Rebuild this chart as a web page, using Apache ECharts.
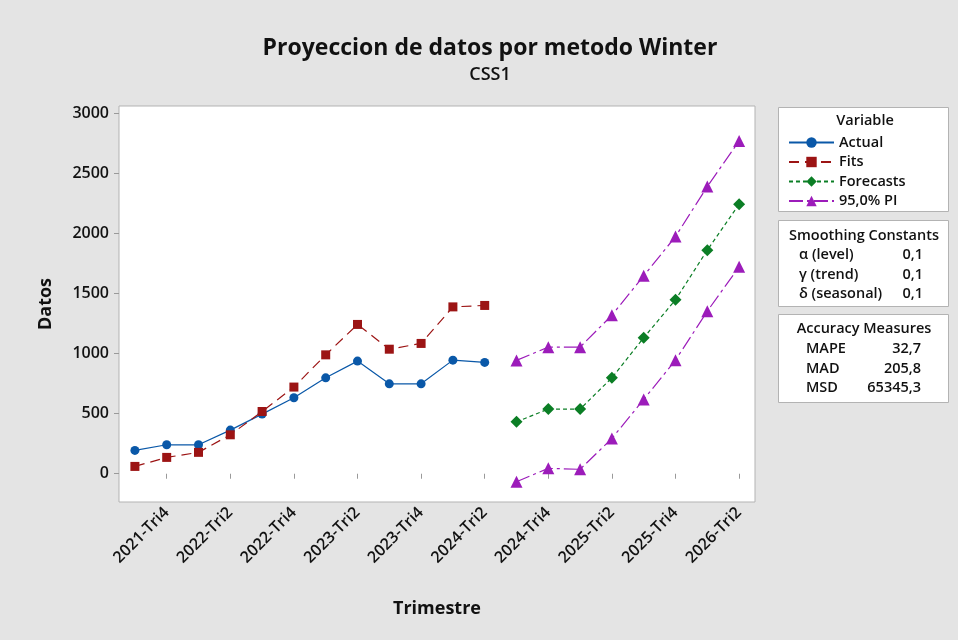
<!DOCTYPE html>
<html>
<head>
<meta charset="utf-8">
<script src="https://cdn.jsdelivr.net/npm/echarts@6/dist/echarts.min.js"></script>
<style>
  html, body { margin: 0; padding: 0; background: #e4e4e4; }
  #main { width: 958px; height: 640px; }
</style>
</head>
<body>
<div id="main"></div>
<script>
// categorias (trimestres)
var trimestres = [
  '2021-Tri3', '2021-Tri4', '2022-Tri1', '2022-Tri2', '2022-Tri3', '2022-Tri4',
  '2023-Tri1', '2023-Tri2', '2023-Tri3', '2023-Tri4', '2024-Tri1', '2024-Tri2',
  '2024-Tri3', '2024-Tri4', '2025-Tri1', '2025-Tri2', '2025-Tri3', '2025-Tri4',
  '2026-Tri1', '2026-Tri2'
];
var actual    = [194, 241, 241, 363, 496, 632, 798, 937, 748, 748, 945, 926,
                 null, null, null, null, null, null, null, null];
var fits      = [61, 136, 178, 324, 518, 721, 989, 1242, 1036, 1084, 1388, 1400,
                 null, null, null, null, null, null, null, null];
var forecasts = [null, null, null, null, null, null, null, null, null, null, null, null,
                 432, 538, 538, 798, 1131, 1447, 1860, 2242];
var piUpper   = [null, null, null, null, null, null, null, null, null, null, null, null,
                 943, 1053, 1053, 1319, 1646, 1973, 2389, 2768];
var piLower   = [null, null, null, null, null, null, null, null, null, null, null, null,
                 -66, 45, 37, 294, 618, 945, 1352, 1721];
var yTicks = [0, 500, 1000, 1500, 2000, 2500, 3000];

var smoothing = [['α (level)', '0,1'], ['γ (trend)', '0,1'], ['δ (seasonal)', '0,1']];
var accuracy  = [['MAPE', '32,7'], ['MAD', '205,8'], ['MSD', '65345,3']];

var FONT = '"Open Sans", "Noto Sans", sans-serif';
var chart = echarts.init(document.getElementById('main'));

function boxText(x, y, txt, align) {
  return {
    type: 'text', x: x, y: y,
    style: { text: txt, fontFamily: FONT, fontSize: 14.5, fontWeight: 600,
             fill: '#111', textAlign: align || 'left', textVerticalAlign: 'middle' }
  };
}

var graphics = [
  { type: 'text', x: 490, y: 48,
    style: { text: 'Proyeccion de datos por metodo Winter', fontFamily: FONT, fontSize: 23,
             fontWeight: 'bold', fill: '#111', textAlign: 'center', textVerticalAlign: 'middle' } },
  { type: 'text', x: 490, y: 75,
    style: { text: 'CSS1', fontFamily: FONT, fontSize: 18, fontWeight: 600, fill: '#111',
             textAlign: 'center', textVerticalAlign: 'middle' } },
  { type: 'rect', shape: { x: 778.5, y: 107.5, width: 170, height: 104 },
    style: { fill: '#fff', stroke: '#b3b3b3', lineWidth: 1 }, z: -1 },
  { type: 'rect', shape: { x: 778.5, y: 220.5, width: 170, height: 86 },
    style: { fill: '#fff', stroke: '#b3b3b3', lineWidth: 1 }, z: -1 },
  { type: 'rect', shape: { x: 778.5, y: 314.5, width: 170, height: 88 },
    style: { fill: '#fff', stroke: '#b3b3b3', lineWidth: 1 }, z: -1 },
  boxText(865, 121, 'Variable', 'center'),
  boxText(864, 236, 'Smoothing Constants', 'center'),
  boxText(864, 329, 'Accuracy Measures', 'center')
];
smoothing.forEach(function (r, i) {
  graphics.push(boxText(799, 255 + i * 19.5, r[0], 'left'));
  graphics.push(boxText(923, 255 + i * 19.5, r[1], 'right'));
});
accuracy.forEach(function (r, i) {
  graphics.push(boxText(806, 349 + i * 19.5, r[0], 'left'));
  graphics.push(boxText(921, 349 + i * 19.5, r[1], 'right'));
});

var option = {
  backgroundColor: '#e4e4e4',
  animation: false,
  textStyle: { fontFamily: FONT },
  grid: {
    left: 119, top: 106, right: 203, bottom: 138,
    show: true, backgroundColor: '#fff', borderColor: '#b3b3b3', borderWidth: 1
  },
  legend: {
    orient: 'vertical', left: 783, top: 130,
    itemWidth: 45, itemHeight: 13, itemGap: 4.5,
    data: ['Actual', 'Fits', 'Forecasts', '95,0% PI'],
    textStyle: { fontFamily: FONT, fontSize: 14.5, fontWeight: 600, color: '#111' }
  },
  xAxis: {
    type: 'category',
    data: trimestres,
    boundaryGap: true,
    name: 'Trimestre', nameLocation: 'middle', nameGap: 98,
    nameTextStyle: { fontFamily: FONT, fontSize: 18, fontWeight: 'bold', color: '#111' },
    axisLine: { show: false },
    axisTick: { show: true, alignWithLabel: true, length: 5,
                interval: function (i) { return i % 2 === 1; },
                lineStyle: { color: '#9a9a9a' } },
    axisLabel: { rotate: 45, margin: 8, fontSize: 16, fontWeight: 600, color: '#111',
                 interval: function (i) { return i % 2 === 1; } },
    splitLine: { show: false }
  },
  yAxis: {
    type: 'value',
    min: -235, max: 3059,
    name: 'Datos', nameLocation: 'middle', nameGap: 64,
    nameTextStyle: { fontFamily: FONT, fontSize: 18, fontWeight: 'bold', color: '#111' },
    axisLine: { show: false },
    axisTick: { show: true, length: 5, customValues: yTicks, lineStyle: { color: '#9a9a9a' } },
    axisLabel: { customValues: yTicks, margin: 10, fontSize: 16, fontWeight: 600, color: '#111',
                 formatter: function (v) { return String(v); } },
    splitLine: { show: false }
  },
  series: [
    { name: 'Actual', type: 'line', data: actual, symbol: 'circle', symbolSize: 9,
      color: '#0a58a8', lineStyle: { width: 1.2, type: 'solid' } },
    { name: 'Fits', type: 'line', data: fits, symbol: 'rect', symbolSize: 9,
      color: '#9c1414', lineStyle: { width: 1.2, type: [10, 6] } },
    { name: 'Forecasts', type: 'line', data: forecasts, symbol: 'diamond', symbolSize: 12,
      color: '#0b7e25', lineStyle: { width: 1.2, type: [4, 3] } },
    { name: '95,0% PI', type: 'line', data: piUpper, symbol: 'triangle', symbolSize: 12,
      color: '#9c1cba', lineStyle: { width: 1.2, type: [14, 4, 3, 4] } },
    { name: '95,0% PI', type: 'line', data: piLower, symbol: 'triangle', symbolSize: 12,
      color: '#9c1cba', lineStyle: { width: 1.2, type: [14, 4, 3, 4] } }
  ],
  graphic: graphics
};
chart.setOption(option);
</script>
</body>
</html>
